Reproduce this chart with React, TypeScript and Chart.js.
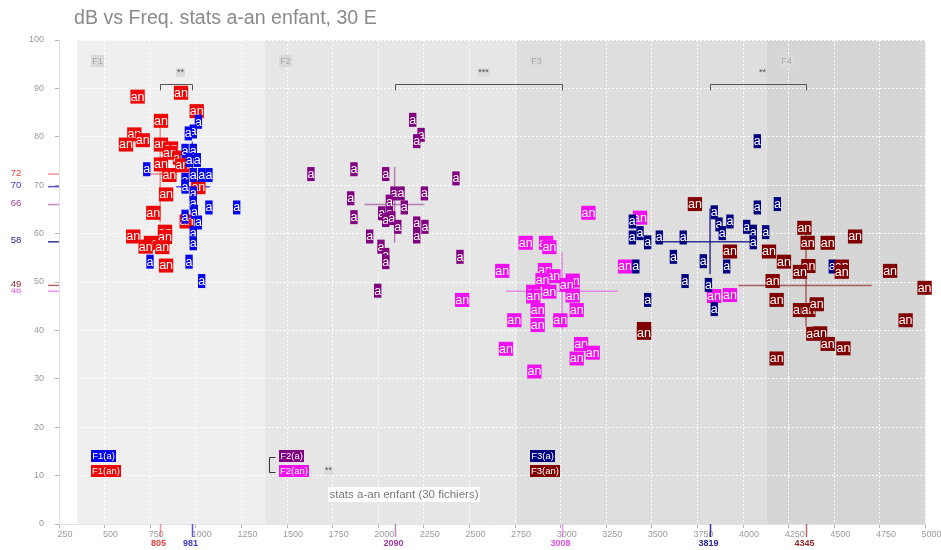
import React, { useEffect, useRef } from "react";
import { Chart, registerables } from "chart.js";

Chart.register(...registerables);

const TITLE = "dB vs Freq. stats a-an enfant, 30 E";
const FOOTNOTE = "stats a-an enfant (30 fichiers)";

const SERIES_NAMES = ["F1(a)", "F1(an)", "F2(a)", "F2(an)", "F3(a)", "F3(an)"];
const SERIES_MARKS = ["a", "an", "a", "an", "a", "an"];

const F1A_X = [1014, 986, 959, 941, 986, 964, 1008, 731, 986, 1032, 1072, 941, 941, 986, 986, 1072, 1224, 992, 941, 1014, 986, 986, 749, 963, 1032];
const F1A_Y = [83.1, 81.1, 80.7, 77.1, 77.1, 75.2, 75.2, 73.3, 72.1, 72.1, 72.1, 71.1, 69.7, 68.3, 66.3, 65.4, 65.4, 64.5, 63.5, 62.3, 60.1, 58.0, 54.2, 54.2, 50.2];

const F1AN_X = [681, 919, 1005, 809, 663, 709, 617, 809, 864, 858, 913, 926, 809, 855, 837, 767, 831, 831, 657, 754, 725, 816, 837, 1014, 950];
const F1AN_Y = [88.3, 89.1, 85.3, 83.3, 80.5, 79.3, 78.4, 78.4, 77.6, 76.7, 75.7, 74.1, 74.3, 72.1, 68.1, 64.3, 60.4, 59.3, 59.4, 58.1, 57.3, 57.2, 53.4, 69.6, 62.5];

const F2A_X = [2189, 2235, 2211, 1631, 1867, 2041, 2426, 2086, 2125, 2253, 1849, 2061, 2143, 2019, 2061, 1867, 2041, 2074, 2107, 2211, 2256, 2211, 1953, 2015, 2041, 2041, 2448, 1997];
const F2A_Y = [83.5, 80.4, 79.1, 72.3, 73.3, 72.3, 71.4, 68.3, 68.3, 68.3, 67.3, 66.6, 65.4, 64.2, 64.2, 63.4, 62.8, 63.2, 61.4, 62.1, 61.4, 59.4, 59.4, 57.3, 55.6, 54.1, 55.2, 48.2];

const F2AN_X = [3152, 2808, 2920, 2938, 2680, 2914, 2960, 2901, 3066, 3033, 2850, 2938, 2850, 3066, 2874, 3088, 2746, 2874, 2998, 2700, 3112, 3176, 3088, 2856, 3353, 3435, 3841, 3928, 2460];
const F2AN_Y = [64.3, 58.1, 58.1, 57.2, 52.3, 52.5, 51.2, 50.4, 50.3, 49.4, 48.0, 48.0, 47.0, 47.2, 44.2, 44.2, 42.1, 41.1, 42.1, 36.2, 37.2, 35.4, 34.2, 31.5, 53.2, 63.3, 47.1, 47.3, 46.3];

const F3A_X = [4078, 4188, 4078, 3842, 3393, 3868, 3928, 4020, 3886, 3393, 3435, 3477, 3541, 3672, 4056, 4124, 4056, 3618, 3782, 3910, 3412, 3682, 3810, 3477, 3842, 4489];
const F3A_Y = [79.1, 66.1, 65.4, 64.4, 62.5, 61.9, 62.5, 61.4, 60.1, 59.2, 60.1, 58.2, 59.2, 59.2, 60.4, 60.3, 58.2, 55.2, 54.3, 53.2, 53.2, 50.2, 49.4, 46.3, 44.4, 53.2];

const F3AN_X = [3736, 3928, 4142, 4224, 4162, 4184, 3457, 3457, 4184, 4336, 4354, 4464, 4614, 4358, 4312, 4541, 4541, 4806, 4995, 4312, 4358, 4404, 4891, 4385, 4422, 4464, 4550];
const F3AN_Y = [66.1, 56.3, 56.3, 54.2, 50.2, 46.3, 40.3, 39.5, 34.2, 61.2, 58.1, 58.1, 59.4, 53.3, 52.1, 53.2, 52.1, 52.3, 48.8, 44.2, 44.2, 45.4, 42.1, 39.3, 39.4, 37.2, 36.3];

const SERIES_X = [F1A_X, F1AN_X, F2A_X, F2AN_X, F3A_X, F3AN_X];
const SERIES_Y = [F1A_Y, F1AN_Y, F2A_Y, F2AN_Y, F3A_Y, F3AN_Y];

// mean and spread of each series
const MEAN_X = [981, 805, 2090, 3008, 3819, 4345];
const MEAN_Y = [69.7, 72.3, 66.0, 48.1, 58.3, 49.3];
const SPREAD_X_LO = [891, 712, 1924, 2700, 3517, 3974];
const SPREAD_X_HI = [1078, 898, 2253, 3313, 4047, 4705];
const SPREAD_Y_LO = [61, 62.3, 58.1, 40.2, 51.6, 40.8];
const SPREAD_Y_HI = [79, 83.5, 73.8, 56.1, 65.2, 59.7];

// significance between series means (series index pairs)
const SIG_A = [1, 2, 4];
const SIG_B = [0, 3, 5];
const SIG_TEXT = ["**", "***", "**"];
const SIG_TOP = 91;
const SIG_FOOT = 89.6;
const SIG_LABEL_Y = 93.2;

// formant zones
const ZONE_NAMES = ["F1", "F2", "F3", "F4"];
const ZONE_START = [350, 1380, 2760, 4130];
const ZONE_END = [1380, 2760, 4130, 5000];
const ZONE_LABEL_Y = 95.7;

// legend boxes (by zone) and their levels
const LEGEND_ZONE = [0, 0, 1, 1, 2, 2];
const LEGEND_Y = [14, 11, 14, 11, 14, 11];
const LEGEND_SIG_TEXT = "**";
const LEGEND_SIG_ZONE = 1;
const FOOTNOTE_X = 2140;
const FOOTNOTE_Y = 6.05;

const X_MIN = 250, X_MAX = 5000, X_STEP = 250;
const Y_MIN = 0, Y_MAX = 100, Y_STEP = 10;

// styles
const FONT = "'Liberation Sans', Arial, sans-serif";
const COLORS = ["#0505ee", "#ee0505", "#800080", "#f010f0", "#000080", "#800000"];
const LINE_COLORS = ["rgba(30,30,200,0.75)", "rgba(230,60,60,0.55)", "rgba(150,60,150,0.6)", "rgba(230,80,230,0.6)", "rgba(20,20,130,0.85)", "rgba(150,40,40,0.7)"];
const TEXT_COLORS = ["#3a3ad0", "#e04040", "#9a3a9a", "#e050e0", "#28288c", "#8c2828"];
const ZONE_COLORS = ["#efefef", "#e6e6e6", "#dedede", "#d6d6d6"];
const DRAW_ORDER = [1, 0, 2, 3, 4, 5];

function box(ctx: CanvasRenderingContext2D, text: string, cx: number, cy: number, bg: string, fg: string, font: string, padX: number, h: number, align: "center" | "left" = "center", snap = true) {
  ctx.font = font;
  const w = ctx.measureText(text).width + padX * 2;
  let left = align === "center" ? cx - w / 2 : cx;
  let top = cy - h / 2;
  let ww = w;
  if (snap) { left = Math.round(left); top = Math.round(top); ww = Math.round(w); }
  ctx.fillStyle = bg;
  ctx.fillRect(left, top, ww, h);
  ctx.fillStyle = fg;
  ctx.textAlign = "center";
  ctx.textBaseline = "middle";
  ctx.fillText(text, left + ww / 2, top + h / 2 + 0.5);
}

const overlay = {
  id: "overlay",
  beforeDraw(chart: any) {
    const { ctx, chartArea: a, scales } = chart;
    const x = scales.x;
    ctx.save();
    ctx.fillStyle = "#ffffff";
    ctx.fillRect(0, 0, chart.width, chart.height);
    for (let i = 0; i < ZONE_NAMES.length; i++) {
      const x0 = x.getPixelForValue(ZONE_START[i]);
      const x1 = x.getPixelForValue(ZONE_END[i]);
      ctx.fillStyle = ZONE_COLORS[i];
      ctx.fillRect(x0, a.top, x1 - x0, a.bottom - a.top);
    }
    ctx.restore();
  },
  afterDatasetsDraw(chart: any) {
    const { ctx } = chart;
    ctx.save();
    for (const s of DRAW_ORDER) {
      const di = chart.data.datasets.findIndex((d: any) => d.seriesIndex === s);
      const meta = chart.getDatasetMeta(di);
      meta.data.forEach((el: any) => {
        box(ctx, SERIES_MARKS[s], el.x, el.y, COLORS[s], "#ffffff", `12.5px ${FONT}`, 0.2, 14, "center", false);
      });
    }
    ctx.restore();
  },
  afterDraw(chart: any) {
    const { ctx, chartArea: a, scales } = chart;
    const x = scales.x, y = scales.y;
    ctx.save();
    // title
    ctx.font = `19.6px ${FONT}`;
    ctx.fillStyle = "#8a8a8a";
    ctx.textAlign = "left";
    ctx.textBaseline = "alphabetic";
    ctx.fillText(TITLE, 74, 24);

    // zone labels
    for (let i = 0; i < ZONE_NAMES.length; i++) {
      const zx = x.getPixelForValue(ZONE_START[i]) + 13.5;
      box(ctx, ZONE_NAMES[i], zx, y.getPixelForValue(ZONE_LABEL_Y), "#dadada", "#a8a8a8", `9px ${FONT}`, 1, 12, "left");
    }

    // significance brackets
    for (let k = 0; k < SIG_TEXT.length; k++) {
      const xa = Math.round(x.getPixelForValue(MEAN_X[SIG_A[k]])) + 0.5;
      const xb = Math.round(x.getPixelForValue(MEAN_X[SIG_B[k]])) + 0.5;
      const yt = Math.round(y.getPixelForValue(SIG_TOP)) + 0.5;
      const yf = y.getPixelForValue(SIG_FOOT);
      ctx.strokeStyle = "#555";
      ctx.lineWidth = 1;
      ctx.beginPath();
      ctx.moveTo(xa, yf);
      ctx.lineTo(xa, yt);
      ctx.lineTo(xb, yt);
      ctx.lineTo(xb, yf);
      ctx.stroke();
      box(ctx, SIG_TEXT[k], (xa + xb) / 2 + 4.5, y.getPixelForValue(SIG_LABEL_Y), "#dcdcdc", "#555", `9px ${FONT}`, 1, 9);
    }

    // legend boxes
    let sigLeft = 0;
    for (let s = 0; s < SERIES_NAMES.length; s++) {
      const lx = x.getPixelForValue(ZONE_START[LEGEND_ZONE[s]]) + 13.5;
      box(ctx, SERIES_NAMES[s], lx, y.getPixelForValue(LEGEND_Y[s]), COLORS[s], "#ffffff", `9.5px ${FONT}`, 1, 12, "left");
      if (LEGEND_ZONE[s] === LEGEND_SIG_ZONE) sigLeft = lx;
    }
    // legend bracket for F2
    {
      const ya = Math.round(y.getPixelForValue(LEGEND_Y[2])) + 1.5;
      const yb = Math.round(y.getPixelForValue(LEGEND_Y[3])) + 1.5;
      const bx = Math.round(sigLeft - 9.5) + 0.5;
      ctx.strokeStyle = "#333";
      ctx.lineWidth = 1;
      ctx.beginPath();
      ctx.moveTo(bx + 6, ya);
      ctx.lineTo(bx, ya);
      ctx.lineTo(bx, yb);
      ctx.lineTo(bx + 6, yb);
      ctx.stroke();
      box(ctx, LEGEND_SIG_TEXT, sigLeft + 50, (ya + yb) / 2 + 5, "#dcdcdc", "#555", `9px ${FONT}`, 1, 9);
    }

    // footnote
    box(ctx, FOOTNOTE, x.getPixelForValue(FOOTNOTE_X), y.getPixelForValue(FOOTNOTE_Y), "#ffffff", "#777", `11.5px ${FONT}`, 1.5, 15);

    // mean markers on the axes
    for (let s = 0; s < SERIES_NAMES.length; s++) {
      const py = y.getPixelForValue(MEAN_Y[s]);
      ctx.strokeStyle = LINE_COLORS[s];
      ctx.lineWidth = 1.5;
      ctx.beginPath();
      ctx.moveTo(a.left - 11, py);
      ctx.lineTo(a.left, py);
      ctx.stroke();
      ctx.font = `9.5px ${FONT}`;
      const t = String(Math.round(MEAN_Y[s]));
      const tw = ctx.measureText(t).width;
      ctx.fillStyle = "#ffffff";
      ctx.fillRect(16 - tw / 2 - 1, py - 6, tw + 2, 9);
      ctx.fillStyle = TEXT_COLORS[s];
      ctx.textAlign = "center";
      ctx.textBaseline = "middle";
      ctx.fillText(t, 16, py - 1);
    }
    for (let s = 0; s < SERIES_NAMES.length; s++) {
      const px = Math.round(x.getPixelForValue(MEAN_X[s])) + 0.5;
      ctx.strokeStyle = LINE_COLORS[s];
      ctx.lineWidth = 1.5;
      ctx.beginPath();
      ctx.moveTo(px, a.bottom);
      ctx.lineTo(px, a.bottom + 13);
      ctx.stroke();
      ctx.font = `bold 9px ${FONT}`;
      ctx.fillStyle = TEXT_COLORS[s];
      ctx.textAlign = "center";
      ctx.textBaseline = "middle";
      ctx.fillText(String(MEAN_X[s]), px - 2, a.bottom + 20);
    }
    ctx.restore();
  },
};

export default function App() {
  const ref = useRef<HTMLCanvasElement | null>(null);
  useEffect(() => {
    document.body.style.margin = "0";
    const canvas = ref.current;
    if (!canvas) return;
    const datasets: any[] = [];
    for (let s = 0; s < SERIES_NAMES.length; s++) {
      datasets.push({
        label: SERIES_NAMES[s] + " spread x",
        data: [{ x: SPREAD_X_LO[s], y: MEAN_Y[s] }, { x: SPREAD_X_HI[s], y: MEAN_Y[s] }],
        showLine: true,
        borderColor: LINE_COLORS[s],
        borderWidth: 1.5,
        pointRadius: 0,
      });
      datasets.push({
        label: SERIES_NAMES[s] + " spread y",
        data: [{ x: MEAN_X[s], y: SPREAD_Y_LO[s] }, { x: MEAN_X[s], y: SPREAD_Y_HI[s] }],
        showLine: true,
        borderColor: LINE_COLORS[s],
        borderWidth: 1.5,
        pointRadius: 0,
      });
    }
    for (let s = 0; s < SERIES_NAMES.length; s++) {
      datasets.push({
        label: SERIES_NAMES[s],
        seriesIndex: s,
        data: SERIES_X[s].map((v, i) => ({ x: v, y: SERIES_Y[s][i] })),
        pointRadius: 0,
        backgroundColor: COLORS[s],
        borderColor: COLORS[s],
      });
    }
    const tickFont = { family: FONT, size: 9 };
    const chart = new Chart(canvas, {
      type: "scatter",
      data: { datasets },
      plugins: [overlay],
      options: {
        animation: false,
        responsive: false,
        maintainAspectRatio: false,
        devicePixelRatio: 1,
        events: [],
        layout: { padding: { top: 40, right: 15.5, left: 0, bottom: 0 } },
        plugins: { legend: { display: false }, tooltip: { enabled: false }, title: { display: false } },
        scales: {
          x: {
            type: "linear",
            min: X_MIN,
            max: X_MAX,
            afterFit: (sc: any) => { sc.height = 26; },
            ticks: { stepSize: X_STEP, color: "#9a9a9a", font: tickFont, padding: 1, labelOffset: 6, maxRotation: 0, autoSkip: false, callback: (v: any) => String(v) },
            grid: { color: "rgba(255,255,255,0.95)", lineWidth: 1, tickLength: 4, tickColor: "#b0b0b0" },
            border: { display: true, color: "#e2e2e2", dash: [2, 2] },
          },
          y: {
            type: "linear",
            min: Y_MIN,
            max: Y_MAX,
            afterFit: (sc: any) => { sc.width = 59; },
            ticks: { stepSize: Y_STEP, color: "#9a9a9a", font: tickFont, padding: 11, callback: (v: any) => String(v) },
            grid: { color: "rgba(255,255,255,0.95)", lineWidth: 1, tickLength: 4, tickColor: "#b0b0b0" },
            border: { display: true, color: "#e2e2e2", dash: [2, 2] },
          },
        },
      } as any,
    });
    return () => chart.destroy();
  }, []);
  return (
    <div style={{ position: "fixed", left: 0, top: 0, width: 941, height: 550 }}>
      <canvas ref={ref} width={941} height={550} style={{ width: 941, height: 550, display: "block" }} />
    </div>
  );
}
